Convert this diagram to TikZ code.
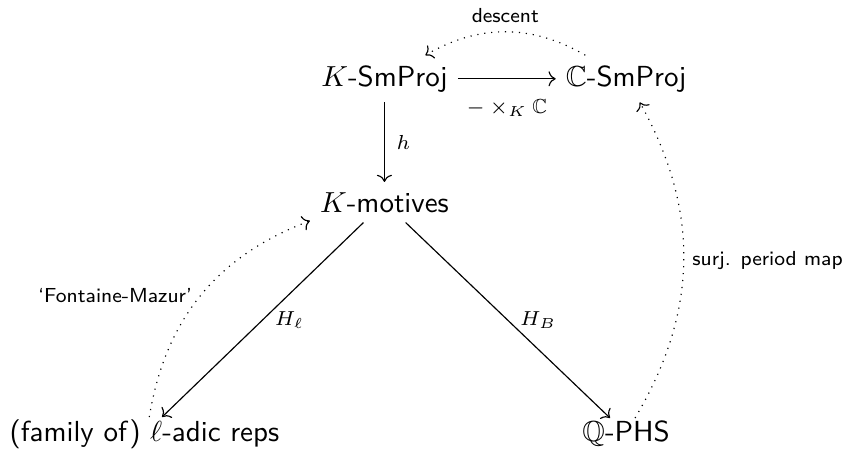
\documentclass[tikz,border=0pt]{standalone}
\usepackage{amssymb}
\usetikzlibrary{arrows.meta}
\begin{document}
\begin{tikzpicture}[font=\sffamily,>={Computer Modern Rightarrow},
    lbl/.style={font=\sffamily\scriptsize,inner sep=2.8pt},
    bottom/.style={anchor=base,inner ysep=0.7pt}]
  \useasboundingbox (0,0) rectangle (10.364,5.515);
  \node[anchor=base] (ksm) at (4.66,4.47) {$K$-SmProj};
  \node[anchor=base] (csm) at (7.59,4.47) {$\mathbb{C}$-SmProj};
  \node[anchor=base] (kmot) at (4.66,2.945) {$K$-motives};
  \node[bottom] (ladic) at (1.75,0.165) {(family of) $\ell$-adic reps};
  \node[bottom] (qphs) at (7.59,0.165) {$\mathbb{Q}$-PHS};
  \draw[->] (ksm) -- node[lbl,below=4.2pt] {$-\times_K\mathbb{C}$} (csm);
  \draw[->] (ksm) -- node[lbl,right=1.2pt] {$h$} (kmot);
  \draw[->] (kmot) -- node[lbl,right=1.2pt] {$H_\ell$} (ladic);
  \draw[->] (kmot) -- node[lbl,right=1.2pt] {$H_B$} (qphs);
  \draw[->,dotted] (csm) to[bend right=30] node[lbl,above] {descent} (ksm);
  \draw[->,dotted] (ladic) to[bend left=30] node[lbl,left] {`Fontaine-Mazur'} (kmot);
  \draw[->,dotted] (qphs) to[bend right=30] node[lbl,right] {surj. period map} (csm);
\end{tikzpicture}
\end{document}
